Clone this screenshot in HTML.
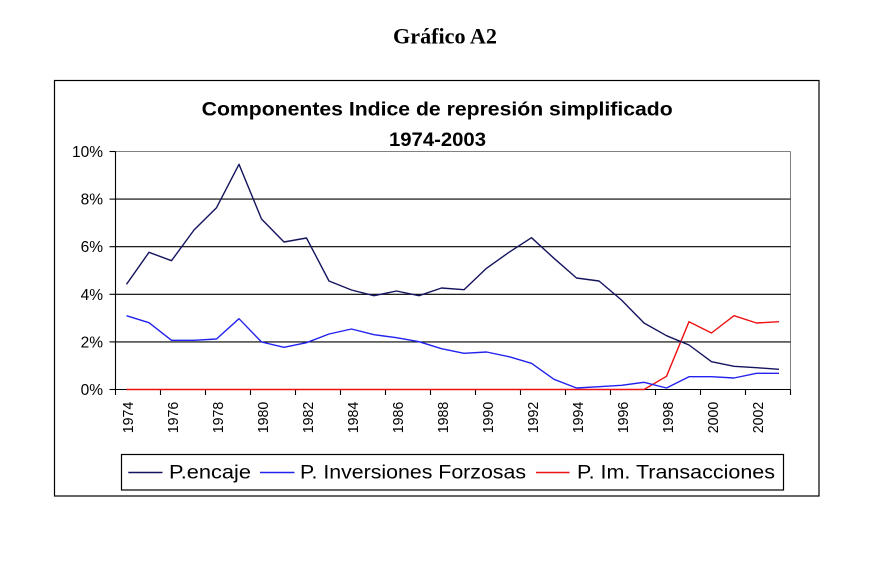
<!DOCTYPE html>
<html>
<head>
<meta charset="utf-8">
<style>
  html,body{margin:0;padding:0;background:#fff;}
  svg{display:block;}
  .ax{font-family:"Liberation Sans",Arial,sans-serif;fill:#000;}
</style>
</head>
<body>
<svg width="892" height="566" viewBox="0 0 892 566" xmlns="http://www.w3.org/2000/svg">
  <rect x="0" y="0" width="892" height="566" fill="#fff"/>

  <!-- Header -->
  <text x="393" y="43.3" font-family="'Liberation Serif','Times New Roman',serif" font-weight="bold" font-size="22" textLength="104" lengthAdjust="spacingAndGlyphs" fill="#000">Gráfico A2</text>

  <!-- Outer chart box -->
  <rect x="54.5" y="80.5" width="764.5" height="415.5" fill="none" stroke="#000" stroke-width="1.2"/>

  <!-- Title -->
  <text class="ax" x="201.7" y="115.7" font-weight="bold" font-size="19.5" textLength="471" lengthAdjust="spacingAndGlyphs">Componentes Indice de represión simplificado</text>
  <text class="ax" x="389" y="146" font-weight="bold" font-size="19.5" textLength="97" lengthAdjust="spacingAndGlyphs">1974-2003</text>

  <!-- Plot area frame (gray top/right) -->
  <line x1="115.5" y1="151.5" x2="790.5" y2="151.5" stroke="#808080" stroke-width="1"/>
  <line x1="790.5" y1="151.5" x2="790.5" y2="389.5" stroke="#808080" stroke-width="1"/>

  <!-- Gridlines -->
  <g stroke="#000" stroke-width="1.1">
    <line x1="115.5" y1="199.1" x2="790.5" y2="199.1"/>
    <line x1="115.5" y1="246.7" x2="790.5" y2="246.7"/>
    <line x1="115.5" y1="294.3" x2="790.5" y2="294.3"/>
    <line x1="115.5" y1="341.9" x2="790.5" y2="341.9"/>
    <line x1="115.5" y1="389.5" x2="790.5" y2="389.5"/>
    <!-- left axis -->
    <line x1="115.5" y1="151.5" x2="115.5" y2="389.5"/>
    <!-- y ticks -->
    <line x1="109.5" y1="151.5" x2="115.5" y2="151.5"/>
    <line x1="109.5" y1="199.1" x2="115.5" y2="199.1"/>
    <line x1="109.5" y1="246.7" x2="115.5" y2="246.7"/>
    <line x1="109.5" y1="294.3" x2="115.5" y2="294.3"/>
    <line x1="109.5" y1="341.9" x2="115.5" y2="341.9"/>
    <line x1="109.5" y1="389.5" x2="115.5" y2="389.5"/>
    <!-- x ticks -->
    <line x1="115.5" y1="389.5" x2="115.5" y2="395"/>
    <line x1="160.5" y1="389.5" x2="160.5" y2="395"/>
    <line x1="205.5" y1="389.5" x2="205.5" y2="395"/>
    <line x1="250.5" y1="389.5" x2="250.5" y2="395"/>
    <line x1="295.5" y1="389.5" x2="295.5" y2="395"/>
    <line x1="340.5" y1="389.5" x2="340.5" y2="395"/>
    <line x1="385.5" y1="389.5" x2="385.5" y2="395"/>
    <line x1="430.5" y1="389.5" x2="430.5" y2="395"/>
    <line x1="475.5" y1="389.5" x2="475.5" y2="395"/>
    <line x1="520.5" y1="389.5" x2="520.5" y2="395"/>
    <line x1="565.5" y1="389.5" x2="565.5" y2="395"/>
    <line x1="610.5" y1="389.5" x2="610.5" y2="395"/>
    <line x1="655.5" y1="389.5" x2="655.5" y2="395"/>
    <line x1="700.5" y1="389.5" x2="700.5" y2="395"/>
    <line x1="745.5" y1="389.5" x2="745.5" y2="395"/>
    <line x1="790.5" y1="389.5" x2="790.5" y2="395"/>
  </g>

  <!-- Y labels -->
  <g class="ax" font-size="15.5" text-anchor="end">
    <text x="103" y="157">10%</text>
    <text x="103" y="204.6">8%</text>
    <text x="103" y="252.2">6%</text>
    <text x="103" y="299.8">4%</text>
    <text x="103" y="347.4">2%</text>
    <text x="103" y="395">0%</text>
  </g>

  <!-- X labels (rotated) -->
  <g class="ax" font-size="15" text-anchor="end">
    <text transform="translate(132.8,401.7) rotate(-90)" textLength="31.5" lengthAdjust="spacingAndGlyphs">1974</text>
    <text transform="translate(177.8,401.7) rotate(-90)" textLength="31.5" lengthAdjust="spacingAndGlyphs">1976</text>
    <text transform="translate(222.8,401.7) rotate(-90)" textLength="31.5" lengthAdjust="spacingAndGlyphs">1978</text>
    <text transform="translate(267.8,401.7) rotate(-90)" textLength="31.5" lengthAdjust="spacingAndGlyphs">1980</text>
    <text transform="translate(312.8,401.7) rotate(-90)" textLength="31.5" lengthAdjust="spacingAndGlyphs">1982</text>
    <text transform="translate(357.8,401.7) rotate(-90)" textLength="31.5" lengthAdjust="spacingAndGlyphs">1984</text>
    <text transform="translate(402.8,401.7) rotate(-90)" textLength="31.5" lengthAdjust="spacingAndGlyphs">1986</text>
    <text transform="translate(447.8,401.7) rotate(-90)" textLength="31.5" lengthAdjust="spacingAndGlyphs">1988</text>
    <text transform="translate(492.8,401.7) rotate(-90)" textLength="31.5" lengthAdjust="spacingAndGlyphs">1990</text>
    <text transform="translate(537.8,401.7) rotate(-90)" textLength="31.5" lengthAdjust="spacingAndGlyphs">1992</text>
    <text transform="translate(582.8,401.7) rotate(-90)" textLength="31.5" lengthAdjust="spacingAndGlyphs">1994</text>
    <text transform="translate(627.8,401.7) rotate(-90)" textLength="31.5" lengthAdjust="spacingAndGlyphs">1996</text>
    <text transform="translate(672.8,401.7) rotate(-90)" textLength="31.5" lengthAdjust="spacingAndGlyphs">1998</text>
    <text transform="translate(717.8,401.7) rotate(-90)" textLength="31.5" lengthAdjust="spacingAndGlyphs">2000</text>
    <text transform="translate(762.8,401.7) rotate(-90)" textLength="31.5" lengthAdjust="spacingAndGlyphs">2002</text>
  </g>

  <!-- Series: P. Im. Transacciones (red) -->
  <polyline fill="none" stroke="#ee1111" stroke-width="1.4" stroke-linejoin="round"
    points="126.5,389.5 644,389.5 666.5,376.3 689,321.7 711.5,333 734,315.7 756.5,323 779,321.7"/>

  <!-- Series: P. Inversiones Forzosas (blue) -->
  <polyline fill="none" stroke="#2222ee" stroke-width="1.4" stroke-linejoin="round"
    points="126.5,315.7 149,322.7 171.5,340.3 194,340.3 216.5,339 239,318.7 261.5,342 284,347.3 306.5,342.7 329,334 351.5,329 374,334.7 396.5,337.7 419,341.7 441.5,348.7 464,353.3 486.5,352 509,356.7 531.5,363.3 554,379.3 576.5,388 599,386.7 621.5,385.3 644,382.3 666.5,388 689,376.7 711.5,376.7 734,378 756.5,373.3 779,373.3"/>

  <!-- Series: P.encaje (navy) -->
  <polyline fill="none" stroke="#14145e" stroke-width="1.4" stroke-linejoin="round"
    points="126.5,284.3 149,252.3 171.5,260.7 194,230 216.5,207.7 239,164.3 261.5,219 284,242 306.5,238 329,281 351.5,290 374,295.7 396.5,291 419,295.7 441.5,288 464,289.7 486.5,268.3 509,252.3 531.5,237.7 554,258.3 576.5,278 599,281 621.5,300 644,323 666.5,335.7 689,345 711.5,361.7 734,366.3 756.5,367.7 779,369.3"/>

  <!-- Legend -->
  <rect x="121.5" y="454.5" width="662" height="35.5" fill="#fff" stroke="#000" stroke-width="1.2"/>
  <line x1="128.3" y1="472.5" x2="162.5" y2="472.5" stroke="#14145e" stroke-width="1.4"/>
  <text class="ax" x="169" y="478.5" font-size="19" textLength="82" lengthAdjust="spacingAndGlyphs">P.encaje</text>
  <line x1="260" y1="472.5" x2="294.5" y2="472.5" stroke="#2222ee" stroke-width="1.4"/>
  <text class="ax" x="300" y="478.5" font-size="19" textLength="226" lengthAdjust="spacingAndGlyphs">P. Inversiones Forzosas</text>
  <line x1="536" y1="472.5" x2="569.5" y2="472.5" stroke="#ee1111" stroke-width="1.4"/>
  <text class="ax" x="577" y="478.5" font-size="19" textLength="198" lengthAdjust="spacingAndGlyphs">P. Im. Transacciones</text>
</svg>
</body>
</html>
